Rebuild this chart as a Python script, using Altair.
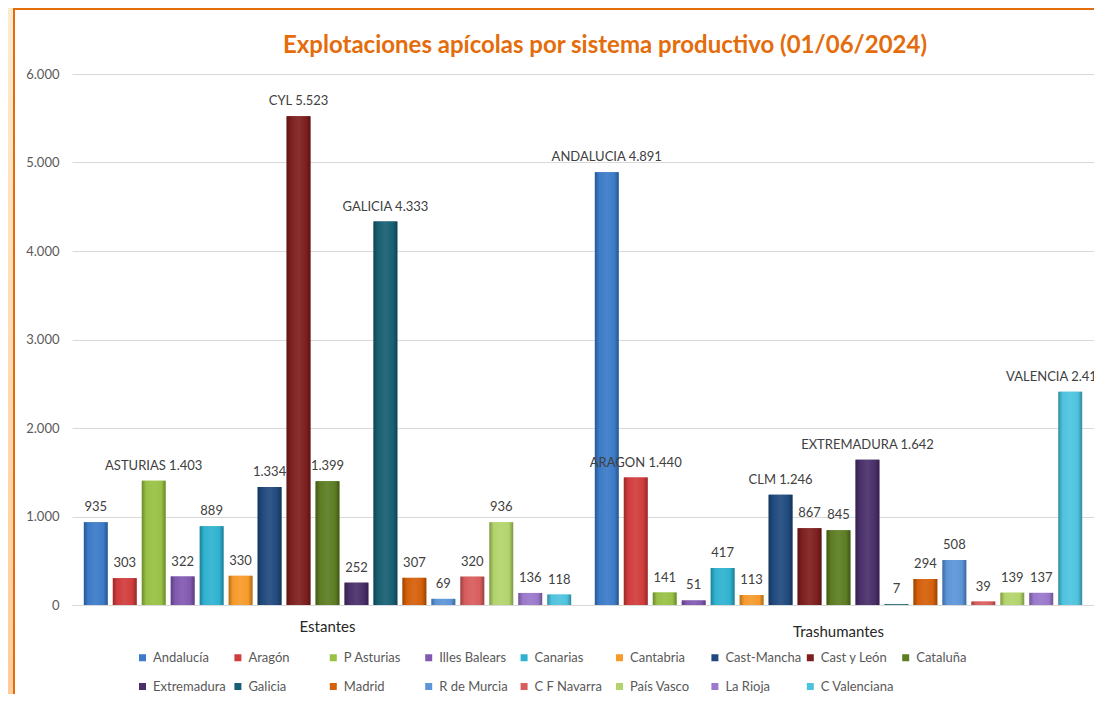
import altair as alt
import pandas as pd

regions = ["Andalucía", "Aragón", "P Asturias", "Illes Balears", "Canarias", "Cantabria",
           "Cast-Mancha", "Cast y León", "Cataluña", "Extremadura", "Galicia", "Madrid",
           "R de Murcia", "C F Navarra", "País Vasco", "La Rioja", "C Valenciana"]
sistemas = ["Estantes", "Trashumantes"]
estantes = [935, 303, 1403, 322, 889, 330, 1334, 5523, 1399, 252, 4333, 307, 69, 320, 936, 136, 118]
trashumantes = [4891, 1440, 141, 51, 417, 113, 1246, 867, 845, 1642, 7, 294, 508, 39, 139, 137, 2410]
est_names = ["", "", "ASTURIAS", "", "", "", "", "CYL", "", "", "GALICIA", "", "", "", "", "", ""]
tra_names = ["ANDALUCIA", "ARAGON", "", "", "", "", "CLM", "", "", "EXTREMADURA", "", "", "", "", "", "", "VALENCIA"]
colors = ["#3B7BC8", "#D13C3C", "#98C145", "#8159B0", "#2FB2D0", "#F79A2A",
          "#204A7E", "#7F1F1F", "#5C7D22", "#4A2F6A", "#175F72", "#D5600A",
          "#5C95D8", "#D85D5D", "#B3D46C", "#9A78CB", "#4EC3DE"]
title_text = "Explotaciones apícolas por sistema productivo (01/06/2024)"


def fmt(v):
    return f"{v:,}".replace(",", ".")


def shade(hex_color, f):
    h = hex_color.lstrip("#")
    r, g, b = (int(h[i:i + 2], 16) for i in (0, 2, 4))
    if f < 1:
        r, g, b = (int(c * f) for c in (r, g, b))
    else:
        t = f - 1
        r, g, b = (int(c + (255 - c) * t) for c in (r, g, b))
    return "#%02x%02x%02x" % (r, g, b)


rows = []
for s, vals, names in ((sistemas[0], estantes, est_names), (sistemas[1], trashumantes, tra_names)):
    for r, v, n in zip(regions, vals, names):
        rows.append({"sistema": s, "region": r, "valor": v,
                     "label": (n + " " + fmt(v)) if n else fmt(v)})
df = pd.DataFrame(rows)

W, H = 1022, 531

base = alt.Chart(df).encode(
    x=alt.X("sistema:N",
            scale=alt.Scale(domain=sistemas, paddingInner=0, paddingOuter=0),
            axis=alt.Axis(title=None, labelAngle=0, ticks=False, domainColor="#D9D9D9",
                          labelFont="Lato", labelFontSize=15, labelColor="#262626",
                          labelPadding={"condition": {"test": "datum.value === 'Trashumantes'",
                                                      "value": 19},
                                        "value": 14})),
    xOffset=alt.XOffset("region:N",
                        scale=alt.Scale(domain=regions, paddingInner=0.18, paddingOuter=0.41)),
    y=alt.Y("valor:Q",
            scale=alt.Scale(domain=[0, 6000], nice=False),
            axis=alt.Axis(title=None, values=[0, 1000, 2000, 3000, 4000, 5000, 6000],
                          labelExpr="replace(format(datum.value, ',d'), ',', '.')",
                          grid=True, gridColor="#D9D9D9", domain=False, ticks=False,
                          labelPadding=13, labelFont="Lato", labelFontSize=13,
                          labelColor="#595959")),
)

bars = base.mark_bar().encode(
    color=alt.Color("region:N",
                    scale=alt.Scale(domain=regions, range=colors),
                    legend=alt.Legend(orient="none", legendX=64, legendY=577,
                                      direction="horizontal", columns=9, title=None,
                                      symbolType="square", symbolSize=49,
                                      symbolStrokeWidth=0,
                                      labelFont="Lato", labelFontSize=13,
                                      labelColor="#595959", gridAlign="all",
                                      columnPadding=2.4, rowPadding=15, labelOffset=4))
)

grad_layers = []
for r, c in zip(regions, colors):
    g = alt.Gradient(
        gradient="linear", x1=0, x2=1, y1=0, y2=0,
        stops=[alt.GradientStop(color=shade(c, 0.72), offset=0),
               alt.GradientStop(color=c, offset=0.18),
               alt.GradientStop(color=shade(c, 1.08), offset=0.5),
               alt.GradientStop(color=c, offset=0.82),
               alt.GradientStop(color=shade(c, 0.7), offset=1)])
    grad_layers.append(base.transform_filter(alt.datum.region == r).mark_bar(fill=g))

is_last = (alt.datum.region == regions[-1]) & (alt.datum.sistema == sistemas[1])
labels = base.transform_filter(~is_last).mark_text(
    dy=-15, font="Lato", fontSize=13, color="#404040").encode(text="label:N")
label_last = base.transform_filter(is_last).mark_text(
    dy=-15, dx=-15, font="Lato", fontSize=13, color="#404040").encode(text="label:N")

frame_df = pd.DataFrame({"k": [0]})
strip = alt.Chart(frame_df).mark_rect(
    fill=alt.Gradient(gradient="linear", x1=0, x2=0, y1=0, y2=1,
                      stops=[alt.GradientStop(color="#FDEBD0", offset=0),
                             alt.GradientStop(color="#FFCC99", offset=1)])
).encode(x=alt.value(-64), x2=alt.value(-59), y=alt.value(-66), y2=alt.value(H + 100))
border = alt.Chart(frame_df).mark_rect(
    fillOpacity=0, stroke="#E46C0A", strokeWidth=2
).encode(x=alt.value(-58), x2=alt.value(W + 60), y=alt.value(-65), y2=alt.value(H + 120))

chart = alt.layer(strip, border, bars, *grad_layers, labels, label_last).properties(
    width=W, height=H,
    autosize=alt.AutoSizeParams(type="none"),
    padding={"left": 64, "top": 66, "right": 0, "bottom": 89},
    background="white",
    title=alt.TitleParams(title_text, font="Lato", fontSize=24, fontWeight="bold",
                          color="#E46C0A", anchor="middle", dx=22, offset=-50),
).configure_view(strokeWidth=0)

chart.save("out.html", embed_options={"renderer": "svg", "actions": False})
